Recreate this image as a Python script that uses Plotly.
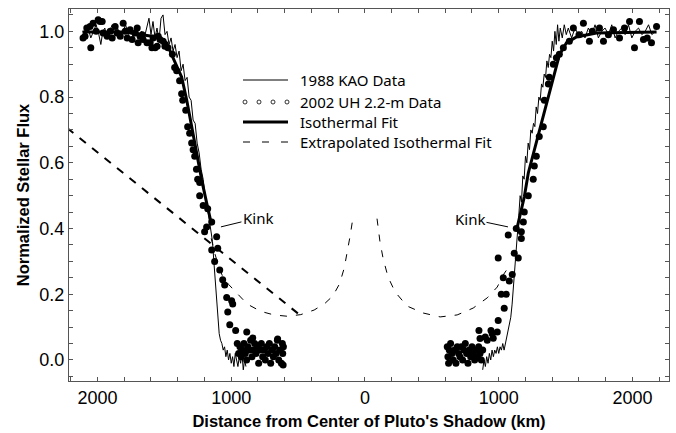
import plotly.graph_objects as go

# ---------------- data (km from shadow centre; negative = ingress side) -------------
kao_left_x = [-2110,-2090,-2070,-2050,-2030,-2010,-1990,-1975,-1960,-1945,-1930,-1910,-1890,-1870,-1850,-1830,-1810,-1790,-1770,-1750,-1730,-1710,-1690,-1670,-1650,-1630,-1615,-1600,-1585,-1570,-1555,-1540,-1525,-1510,-1495,-1480,-1465,-1450,-1435,-1420,-1405,-1390,-1375,-1360,-1345,-1330,-1315,-1300,-1285,-1270,-1255,-1240,-1225,-1210,-1195,-1180,-1165,-1150,-1140,-1130,-1120,-1110,-1100,-1090,-1080,-1070,-1060,-1050,-1040,-1030,-1020,-1010,-1000,-990,-980,-970,-960,-950,-940,-930,-920,-910,-900,-890]
kao_left_y = [1.00,0.99,1.01,0.98,1.00,1.02,0.99,0.96,1.00,1.01,0.98,1.00,1.02,0.99,1.01,0.98,1.00,1.02,0.99,1.00,0.98,1.01,0.99,1.00,0.98,1.02,1.04,0.99,1.03,0.98,1.01,0.97,1.04,1.05,0.99,1.00,0.96,0.98,0.94,0.96,0.92,0.94,0.88,0.90,0.85,0.86,0.80,0.79,0.73,0.72,0.66,0.63,0.58,0.55,0.50,0.47,0.43,0.40,0.36,0.30,0.24,0.18,0.13,0.08,0.06,0.05,0.03,0.04,0.01,0.03,0.00,0.02,-0.01,0.01,-0.02,0.02,0.00,-0.02,0.01,-0.01,0.02,-0.03,0.00,-0.02]

kao_right_x = [880,890,900,910,920,930,940,950,960,970,980,990,1000,1010,1020,1030,1040,1050,1060,1070,1080,1090,1100,1110,1120,1130,1140,1145,1150,1160,1170,1180,1190,1200,1210,1220,1230,1240,1250,1260,1270,1280,1290,1300,1310,1320,1330,1340,1350,1360,1370,1380,1390,1400,1410,1420,1430,1440,1450,1460,1475,1490,1505,1520,1545,1570,1595,1620,1645,1670,1695,1720,1745,1770,1795,1820,1845,1870,1895,1920,1945,1970,1995,2020,2045,2070,2095,2120,2145,2170]
kao_right_y = [-0.03,0.00,-0.02,0.01,-0.01,0.02,0.00,0.03,0.01,0.03,0.02,0.04,0.02,0.04,0.03,0.05,0.03,0.05,0.06,0.08,0.10,0.13,0.17,0.22,0.28,0.32,0.37,0.41,0.44,0.50,0.48,0.56,0.55,0.62,0.60,0.66,0.64,0.70,0.69,0.72,0.71,0.77,0.75,0.80,0.79,0.84,0.83,0.87,0.86,0.91,0.89,0.93,0.92,0.97,0.94,1.00,0.96,1.02,0.97,1.01,0.98,1.02,0.99,1.01,0.98,1.01,0.99,1.00,0.98,1.01,0.99,1.02,0.98,1.00,1.01,0.99,1.02,0.98,1.00,1.01,0.99,1.02,0.98,1.00,1.01,0.99,1.00,1.02,0.99,1.00]

uh_left_x = [-2108,-2093,-2080,-2056,-2050,-2033,-2010,-1995,-1981,-1965,-1958,-1928,-1905,-1890,-1868,-1853,-1830,-1808,-1793,-1778,-1756,-1741,-1718,-1703,-1696,-1682,-1666,-1659,-1630,-1606,-1593,-1584,-1569,-1554,-1546,-1533,-1509,-1496,-1473,-1440,-1423,-1408,-1386,-1371,-1363,-1340,-1326,-1311,-1296,-1285,-1273,-1260,-1251,-1236,-1236,-1210,-1176,-1146,-1184,-1199,-1109,-1146,-1101,-1124,-1086,-1064,-1049,-1034,-997,-989,-1026,-1011,-967,-884,-839,-653,
             -955,-945,-935,-925,-915,-905,-895,-885,-875,-865,-855,-845,-835,-825,-815,-805,-795,-785,-775,-765,-755,-745,-735,-725,-715,-705,-695,-685,-675,-665,-655,-645,-635,-625,-618,-615,-612,-610]
uh_left_y = [0.98,0.985,1.01,1.015,0.95,1.025,1.00,1.035,1.03,1.03,0.995,0.985,1.00,0.98,1.015,0.995,0.985,1.025,1.00,0.98,1.005,0.975,0.995,1.01,0.965,0.985,0.99,0.975,0.965,0.965,0.95,0.98,0.95,0.955,0.985,0.975,0.97,0.955,0.95,0.93,0.89,0.88,0.85,0.81,0.79,0.76,0.71,0.69,0.66,0.64,0.62,0.58,0.55,0.54,0.50,0.47,0.46,0.42,0.405,0.39,0.375,0.335,0.34,0.30,0.274,0.244,0.228,0.19,0.18,0.17,0.146,0.107,0.09,0.085,0.067,0.064,
             0.05,0.02,0.04,0.01,0.03,0.05,0.02,0.00,0.04,0.03,0.06,0.01,0.03,0.05,0.02,0.04,-0.01,0.03,0.05,0.01,0.03,0.00,0.04,0.02,0.05,-0.01,0.03,0.01,0.04,0.02,0.06,0.00,0.03,-0.01,0.05,0.02,-0.015,0.04]

uh_right_x = [615,620,625,630,640,650,660,670,680,690,700,710,720,730,740,750,760,770,780,790,800,810,820,830,840,850,860,870,880,
              852,860,899,914,942,951,959,996,989,1041,1056,1019,1079,1034,1101,996,1116,1146,1071,1131,1169,1169,1184,1191,
              1221,1258,1266,1281,1303,1333,1341,1371,1378,1408,1431,1453,1483,1528,1558,1633,1678,1753,1783,1858,1903,1978,2015,2052,2082,2142,2180,
              1600,1700,1820,1940,2110]
uh_right_y = [0.04,0.01,-0.01,0.03,0.05,0.02,0.00,0.03,-0.01,0.04,0.02,0.01,0.04,0.00,0.03,0.05,0.02,-0.01,0.03,0.01,0.04,0.02,0.00,0.03,0.01,0.04,0.02,0.00,0.03,
              0.09,0.065,0.07,0.06,0.09,0.08,0.066,0.12,0.085,0.157,0.20,0.20,0.24,0.25,0.26,0.31,0.325,0.31,0.38,0.40,0.39,0.37,0.42,0.45,
              0.50,0.55,0.59,0.62,0.68,0.71,0.79,0.84,0.86,0.90,0.92,0.93,0.95,0.97,1.01,1.025,0.97,1.01,0.97,1.005,0.98,1.03,0.95,1.03,0.975,0.965,1.015,
              0.99,1.00,0.99,1.01,0.98]

fit_left_x = [-2112,-1800,-1558,-1483,-1438,-1371,-1333,-1296,-1258,-1221,-1184,-1146]
fit_left_y = [0.998,0.998,0.983,0.965,0.922,0.861,0.791,0.709,0.630,0.548,0.478,0.41]
fit_right_x = [1139,1191,1221,1281,1333,1378,1416,1453,1506,1581,1730,2180]
fit_right_y = [0.405,0.496,0.569,0.661,0.740,0.813,0.874,0.928,0.965,0.983,0.995,0.998]

ext_line_x = [-2600,-487]
ext_line_y = [0.828,0.137]
ext_left_x = [-1150,-1120,-1090,-1060,-1020,-960,-880,-780,-680,-580,-480,-380,-300,-240,-190,-155,-130,-110,-95,-88]
ext_left_y = [0.37,0.32,0.28,0.25,0.23,0.205,0.17,0.148,0.137,0.133,0.138,0.152,0.172,0.195,0.232,0.28,0.33,0.38,0.42,0.445]
ext_right_x = [90,100,112,135,172,225,315,434,562,689,809,914,989,1034,1086]
ext_right_y = [0.43,0.39,0.36,0.31,0.253,0.207,0.164,0.143,0.131,0.137,0.158,0.189,0.222,0.259,0.29]

x_tickvals = [-2000,-1000,0,1000,2000]
x_ticktext = ["2000","1000","0","1000","2000"]
y_tickvals = [0.0,0.2,0.4,0.6,0.8,1.0]
y_ticktext = ["0.0","0.2","0.4","0.6","0.8","1.0"]

legend_labels = ["1988 KAO Data","2002 UH 2.2-m Data","Isothermal Fit","Extrapolated Isothermal Fit"]

# ---------------- figure ----------------
fig = go.Figure()
ext_style = dict(color="black", width=1, dash="7px,9px")
fig.add_trace(go.Scatter(x=ext_line_x, y=ext_line_y, mode="lines",
                         line=dict(color="black", width=2, dash="8px,8px")))
fig.add_trace(go.Scatter(x=ext_left_x, y=ext_left_y, mode="lines", line=ext_style))
fig.add_trace(go.Scatter(x=ext_right_x, y=ext_right_y, mode="lines", line=ext_style))
for xs, ys in [(kao_left_x, kao_left_y), (kao_right_x, kao_right_y)]:
    fig.add_trace(go.Scatter(x=xs, y=ys, mode="lines", line=dict(color="black", width=1)))
for xs, ys in [(uh_left_x, uh_left_y), (uh_right_x, uh_right_y)]:
    fig.add_trace(go.Scatter(x=xs, y=ys, mode="markers",
                             marker=dict(color="black", size=7, line=dict(width=0))))
for xs, ys in [(fit_left_x, fit_left_y), (fit_right_x, fit_right_y)]:
    fig.add_trace(go.Scatter(x=xs, y=ys, mode="lines", line=dict(color="black", width=3)))

tickfont = dict(family="Liberation Sans, Arial, sans-serif", size=18, color="black")
titlefont = dict(family="Liberation Sans, Arial, sans-serif", size=16.5, color="black")
axis_common = dict(showgrid=False, zeroline=False, showline=True, linecolor="#555",
                   linewidth=1, mirror="ticks", ticks="inside", ticklen=4, tickcolor="#555",
                   tickfont=tickfont)

fig.update_xaxes(range=[-2213, 2273], tickvals=x_tickvals, ticktext=x_ticktext,
                 minor=dict(dtick=200, tick0=0, ticks="inside", ticklen=4, tickcolor="#555"),
                 title=dict(text="<b>Distance from Center of Pluto's Shadow (km)</b>", font=titlefont,
                            standoff=8),
                 **axis_common)
fig.update_yaxes(range=[-0.064, 1.068], tickvals=y_tickvals, ticktext=y_ticktext,
                 minor=dict(dtick=0.05, tick0=0, ticks="inside", ticklen=4, tickcolor="#555"),
                 title=dict(text="<b>Normalized Stellar Flux</b>", font=titlefont, standoff=5),
                 **axis_common)

# ---------------- manual legend ----------------
def px_x(p):
    return (p - 69) / 600.0
def px_y(p):
    return (381 - p) / 372.0

rows = [80, 102, 122, 142]
shapes = []
shapes.append(dict(type="line", xref="paper", yref="paper", x0=px_x(243), x1=px_x(288),
                   y0=px_y(rows[0]), y1=px_y(rows[0]), line=dict(color="black", width=1)))
for cx in [245, 259, 273, 287]:
    shapes.append(dict(type="circle", xref="paper", yref="paper", xsizemode="pixel", ysizemode="pixel",
                       xanchor=px_x(cx), yanchor=px_y(rows[1]), x0=-2, x1=2, y0=-2, y1=2,
                       line=dict(color="black", width=0.8)))
shapes.append(dict(type="line", xref="paper", yref="paper", x0=px_x(243), x1=px_x(288),
                   y0=px_y(rows[2]), y1=px_y(rows[2]), line=dict(color="black", width=3)))
shapes.append(dict(type="line", xref="paper", yref="paper", x0=px_x(243), x1=px_x(288),
                   y0=px_y(rows[3]), y1=px_y(rows[3]), line=dict(color="black", width=1, dash="7px,12px")))

legfont = dict(family="Noto Sans, Open Sans, sans-serif", size=15, color="black")
annotations = []
for lab, r in zip(legend_labels, rows):
    annotations.append(dict(text=lab, xref="paper", yref="paper", x=px_x(298), y=px_y(r),
                            xanchor="left", yanchor="middle", showarrow=False, font=legfont))
annotations.append(dict(text="Kink", x=-1077, y=0.405, xref="x", yref="y", showarrow=True,
                        arrowhead=0, arrowwidth=1, arrowcolor="black", ax=37, ay=-9,
                        standoff=0, font=legfont))
annotations.append(dict(text="Kink", x=1069, y=0.405, xref="x", yref="y", showarrow=True,
                        arrowhead=0, arrowwidth=1, arrowcolor="black", ax=-38, ay=-8,
                        standoff=0, font=legfont))

fig.update_layout(width=676, height=433, margin=dict(l=69, r=7, t=9, b=52),
                  paper_bgcolor="white", plot_bgcolor="white", showlegend=False,
                  shapes=shapes, annotations=annotations)

fig.write_html("out.html")
